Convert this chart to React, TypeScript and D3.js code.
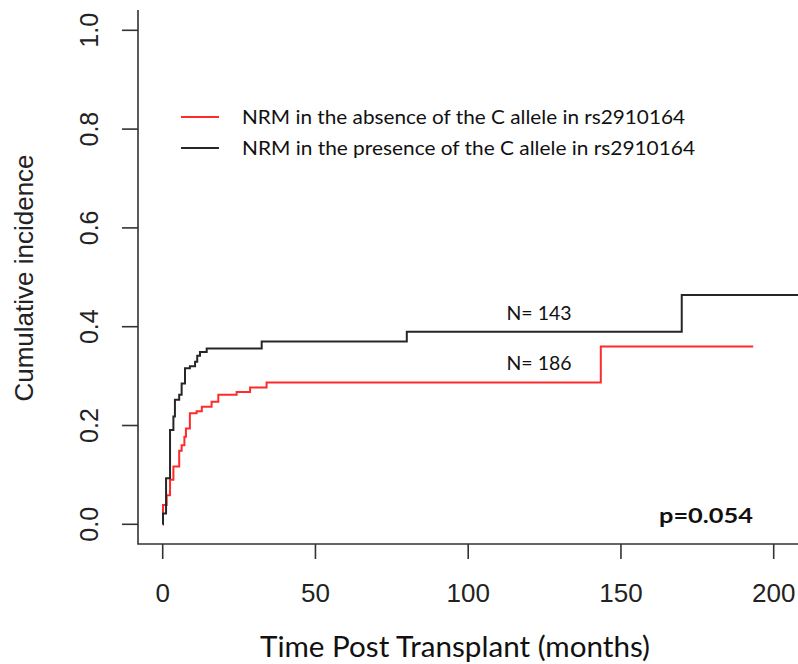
import React, { useEffect, useRef } from 'react';
import * as d3 from 'd3';

// cumulative incidence step curves (months, incidence)
const absenceTimes = [0, 0.1, 1.3, 2.4, 3.5, 5.4, 6.2, 7.1, 7.6, 8.9, 11.1, 12.8, 16.0, 18.2, 24.2, 28.6, 34.0, 143.4, 193.3];
const absenceValues = [0, 0.039, 0.059, 0.09, 0.117, 0.149, 0.16, 0.177, 0.194, 0.225, 0.229, 0.238, 0.248, 0.262, 0.268, 0.277, 0.287, 0.36, 0.36];

const presenceTimes = [0, 0.1, 1.1, 2.4, 3.5, 4.0, 5.4, 6.2, 7.3, 8.9, 10.6, 11.3, 12.2, 14.4, 32.4, 79.9, 169.9, 212];
const presenceValues = [0, 0.022, 0.093, 0.191, 0.218, 0.252, 0.262, 0.285, 0.316, 0.32, 0.329, 0.341, 0.349, 0.356, 0.37, 0.39, 0.464, 0.464];

const xTicks = [0, 50, 100, 150, 200];
const yTicks = [0, 0.2, 0.4, 0.6, 0.8, 1.0];

const legendLabels = [
  'NRM in the absence of the C allele in rs2910164',
  'NRM in the presence of the C allele in rs2910164',
];
const nLabels = ['N= 143', 'N= 186'];
const pLabel = 'p=0.054';

const RED = '#ff2b2b';
const BLACK = '#262626';

const App = () => {
  const ref = useRef<SVGSVGElement>(null);

  useEffect(() => {
    const svg = d3.select(ref.current);
    svg.selectAll('*').remove();

    const x = d3.scaleLinear().domain([0, 200]).range([162.7, 773.7]);
    const y = d3.scaleLinear().domain([0, 1]).range([524.3, 30.3]);
    const axisColor = '#333';

    // box (left + bottom)
    svg.append('path')
      .attr('d', 'M138,10 V544 H798')
      .attr('fill', 'none')
      .attr('stroke', axisColor)
      .attr('stroke-width', 1.6);

    // y ticks
    const yg = svg.append('g');
    yTicks.forEach(t => {
      yg.append('line')
        .attr('x1', 122).attr('x2', 138)
        .attr('y1', y(t)).attr('y2', y(t))
        .attr('stroke', axisColor).attr('stroke-width', 1.6);
      yg.append('text')
        .attr('transform', `translate(98,${y(t)}) rotate(-90)`)
        .attr('text-anchor', 'middle')
        .attr('font-family', 'Liberation Sans, Arial, sans-serif')
        .attr('font-size', 25)
        .attr('fill', '#222')
        .text(t.toFixed(1));
    });

    // x ticks
    const xg = svg.append('g');
    xTicks.forEach(t => {
      xg.append('line')
        .attr('x1', x(t)).attr('x2', x(t))
        .attr('y1', 544).attr('y2', 559)
        .attr('stroke', axisColor).attr('stroke-width', 1.6);
      xg.append('text')
        .attr('x', x(t)).attr('y', 602)
        .attr('text-anchor', 'middle')
        .attr('font-family', 'Liberation Sans, Arial, sans-serif')
        .attr('font-size', 26)
        .attr('fill', '#222')
        .text(t);
    });

    // axis titles
    svg.append('text')
      .attr('transform', 'translate(33,278) rotate(-90)')
      .attr('text-anchor', 'middle')
      .attr('font-family', 'Liberation Sans, Arial, sans-serif')
      .attr('font-size', 26)
      .attr('fill', '#222')
      .text('Cumulative incidence');

    svg.append('text')
      .attr('x', 455).attr('y', 657)
      .attr('text-anchor', 'middle')
      .attr('font-family', 'Lato, sans-serif')
      .attr('font-size', 28)
      .attr('textLength', 390)
      .attr('lengthAdjust', 'spacingAndGlyphs')
      .attr('fill', '#111')
      .text('Time Post Transplant (months)');

    // curves
    const line = d3.line<[number, number]>()
      .x(d => x(d[0]))
      .y(d => y(d[1]))
      .curve(d3.curveStepAfter);

    const series = [
      { t: absenceTimes, v: absenceValues, c: RED },
      { t: presenceTimes, v: presenceValues, c: BLACK },
    ];
    series.forEach(s => {
      const pts = s.t.map((t, i) => [t, s.v[i]] as [number, number]);
      svg.append('path')
        .attr('d', line(pts))
        .attr('fill', 'none')
        .attr('stroke', s.c)
        .attr('stroke-width', 2);
    });

    // legend
    legendLabels.forEach((lab, i) => {
      const ly = 117 + i * 31;
      svg.append('line')
        .attr('x1', 181).attr('x2', 219)
        .attr('y1', ly).attr('y2', ly)
        .attr('stroke', i === 0 ? RED : BLACK)
        .attr('stroke-width', 2);
      svg.append('text')
        .attr('x', 242).attr('y', ly + 7)
        .attr('font-family', 'Lato, sans-serif')
        .attr('font-size', 20)
        .attr('textLength', i === 0 ? 443 : 453)
        .attr('lengthAdjust', 'spacingAndGlyphs')
        .attr('fill', '#111')
        .text(lab);
    });

    // N labels
    nLabels.forEach((lab, i) => {
      svg.append('text')
        .attr('x', 539).attr('y', (i === 0 ? 313 : 363) + 7)
        .attr('text-anchor', 'middle')
        .attr('font-family', 'Lato, sans-serif')
        .attr('font-size', 19)
        .attr('textLength', 65)
        .attr('lengthAdjust', 'spacingAndGlyphs')
        .attr('fill', '#111')
        .text(lab);
    });

    svg.append('text')
      .attr('x', 706).attr('y', 523)
      .attr('text-anchor', 'middle')
      .attr('font-family', 'Lato, sans-serif')
      .attr('font-weight', 'bold')
      .attr('font-size', 21)
      .attr('textLength', 94)
      .attr('lengthAdjust', 'spacingAndGlyphs')
      .attr('fill', '#111')
      .text(pLabel);
  }, []);

  return (
    <svg
      ref={ref}
      width={798}
      height={664}
      style={{ position: 'absolute', left: 0, top: 0, background: '#fff' }}
    />
  );
};

export default App;
